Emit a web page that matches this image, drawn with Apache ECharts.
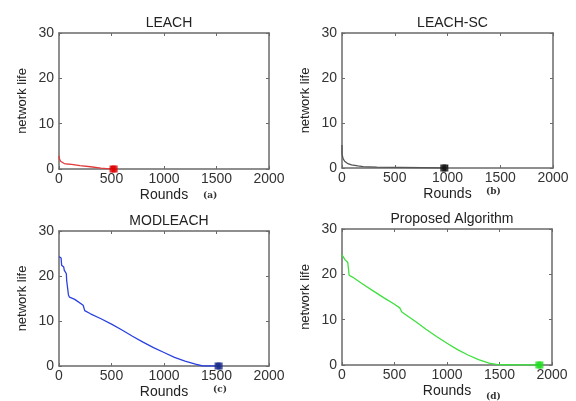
<!DOCTYPE html>
<html>
<head>
<meta charset="utf-8">
<script src="https://cdn.jsdelivr.net/npm/echarts@6/dist/echarts.min.js"></script>
<style>
  html, body { margin: 0; padding: 0; background: #fff; }
  #main { width: 576px; height: 401px; }
</style>
</head>
<body>
<div id="main"></div>
<script>
// data
var panelTitles = ["LEACH", "LEACH-SC", "MODLEACH", "Proposed Algorithm"];
var panelTags = ["(a)", "(b)", "(c)", "(d)"];

var leachRounds = [0, 5, 15, 30, 50, 80, 120, 200, 300, 400, 480, 530];
var leachLife = [2.9, 2.2, 1.7, 1.4, 1.2, 1.1, 1.0, 0.75, 0.5, 0.2, 0.05, 0];

var scRounds = [0, 0, 3, 10, 25, 50, 90, 150, 200, 260, 330, 340, 980];
var scLife = [5.1, 3.2, 2.8, 2.1, 1.5, 1.05, 0.7, 0.45, 0.3, 0.25, 0.2, 0, 0];

var modRounds = [0, 20, 25, 45, 50, 70, 73, 88, 90, 100, 150, 230, 245, 300, 400, 500, 600, 700, 800, 900, 1000, 1100, 1200, 1300, 1370, 1530];
var modLife = [24.3, 24, 22.4, 22, 21.3, 20.5, 19, 18.8, 15.8, 15.3, 14.8, 13.5, 12.3, 11.6, 10.5, 9.3, 8, 6.6, 5.3, 4.1, 3, 1.9, 1.1, 0.4, 0, 0];

var propRounds = [0, 15, 30, 55, 65, 68, 100, 200, 300, 400, 500, 550, 560, 570, 600, 700, 800, 900, 1000, 1100, 1200, 1300, 1400, 1500, 1890];
var propLife = [24.3, 24, 23.2, 22.6, 22.5, 19.8, 19.4, 17.8, 16.3, 14.8, 13.4, 12.6, 12.3, 11.7, 11.2, 9.6, 7.9, 6.3, 4.8, 3.4, 2.2, 1.2, 0.4, 0.05, 0];

var lineColors = ["#e23a3a", "#555555", "#2a40e0", "#3ee03e"];
var markColors = ["#e00000", "#111111", "#1a2a88", "#22dd22"];

var roundsList = [leachRounds, scRounds, modRounds, propRounds];
var lifeList = [leachLife, scLife, modLife, propLife];

// plot boxes
var boxes = [
  { left: 59, top: 33, width: 210, height: 136 },
  { left: 342, top: 33, width: 211, height: 135 },
  { left: 59, top: 231, width: 210, height: 135 },
  { left: 342, top: 229, width: 210, height: 136 }
];

var font = "Liberation Sans, Arial, sans-serif";
var axisCol = "#6a6a6a";

function pairs(xs, ys) {
  var out = [];
  for (var i = 0; i < xs.length; i++) out.push([xs[i], ys[i]]);
  return out;
}
function plain(v) { return String(v); }

var grid = [], xAxis = [], yAxis = [], series = [], title = [], graphic = [];
for (var i = 0; i < 4; i++) {
  var b = boxes[i];
  grid.push({ left: b.left, top: b.top, width: b.width, height: b.height, show: false });
  title.push({
    text: panelTitles[i],
    left: b.left + b.width / 2,
    textAlign: "center",
    top: b.top - 22,
    textStyle: { fontFamily: font, fontSize: 14, fontWeight: "normal", color: "#222" }
  });
  // bottom axis
  xAxis.push({
    gridIndex: i, type: "value", min: 0, max: 2000, interval: 500, position: "bottom",
    name: "Rounds", nameLocation: "middle", nameGap: 19,
    nameTextStyle: { fontFamily: font, fontSize: 14, color: "#222" },
    axisLine: { show: true, onZero: false, lineStyle: { color: axisCol, width: 1.5 } },
    axisTick: { show: true, inside: true, length: 3, lineStyle: { color: axisCol } },
    axisLabel: { fontFamily: font, fontSize: 14, color: "#333", margin: 3, formatter: plain },
    splitLine: { show: false }
  });
  // top axis (box)
  xAxis.push({
    gridIndex: i, type: "value", min: 0, max: 2000, interval: 500, position: "top",
    axisLine: { show: true, onZero: false, lineStyle: { color: axisCol, width: 1.5 } },
    axisTick: { show: true, inside: true, length: 3, lineStyle: { color: axisCol } },
    axisLabel: { show: false }, splitLine: { show: false }
  });
  yAxis.push({
    gridIndex: i, type: "value", min: 0, max: 30, interval: 10, position: "left",
    name: "network life", nameLocation: "middle", nameGap: 30,
    nameTextStyle: { fontFamily: font, fontSize: 13, color: "#222" },
    axisLine: { show: true, onZero: false, lineStyle: { color: axisCol, width: 1.5 } },
    axisTick: { show: true, inside: true, length: 3, lineStyle: { color: axisCol } },
    axisLabel: { fontFamily: font, fontSize: 14, color: "#333", margin: 5, formatter: plain },
    splitLine: { show: false }
  });
  yAxis.push({
    gridIndex: i, type: "value", min: 0, max: 30, interval: 10, position: "right",
    axisLine: { show: true, onZero: false, lineStyle: { color: axisCol, width: 1.5 } },
    axisTick: { show: true, inside: true, length: 3, lineStyle: { color: axisCol } },
    axisLabel: { show: false }, splitLine: { show: false }
  });
  var xs = roundsList[i], ys = lifeList[i];
  series.push({
    type: "line", xAxisIndex: i * 2, yAxisIndex: i * 2,
    data: pairs(xs, ys), symbol: "none", silent: true,
    lineStyle: { color: lineColors[i], width: 1.3 }, z: 3
  });
  var n = xs.length;
  series.push({
    type: "scatter", xAxisIndex: i * 2, yAxisIndex: i * 2,
    data: [[xs[n - 1], ys[n - 1]], [xs[n - 1] - 20, ys[n - 1]]],
    symbol: "rect", symbolSize: [6, 7], silent: true,
    itemStyle: { color: markColors[i] }, z: 4
  });
}

// panel tags (a)-(d)
var tagPos = [[203, 191], [486, 187], [213, 385], [486, 392]];
for (var k = 0; k < 4; k++) {
  graphic.push({
    type: "text", left: tagPos[k][0], top: tagPos[k][1],
    style: { text: panelTags[k], font: "bold 9px DejaVu Serif, serif", fill: "#333" }
  });
}

var chart = echarts.init(document.getElementById("main"));
chart.setOption({
  animation: false,
  backgroundColor: "#fff",
  title: title,
  grid: grid,
  xAxis: xAxis,
  yAxis: yAxis,
  series: series,
  graphic: graphic
});
</script>
</body>
</html>
